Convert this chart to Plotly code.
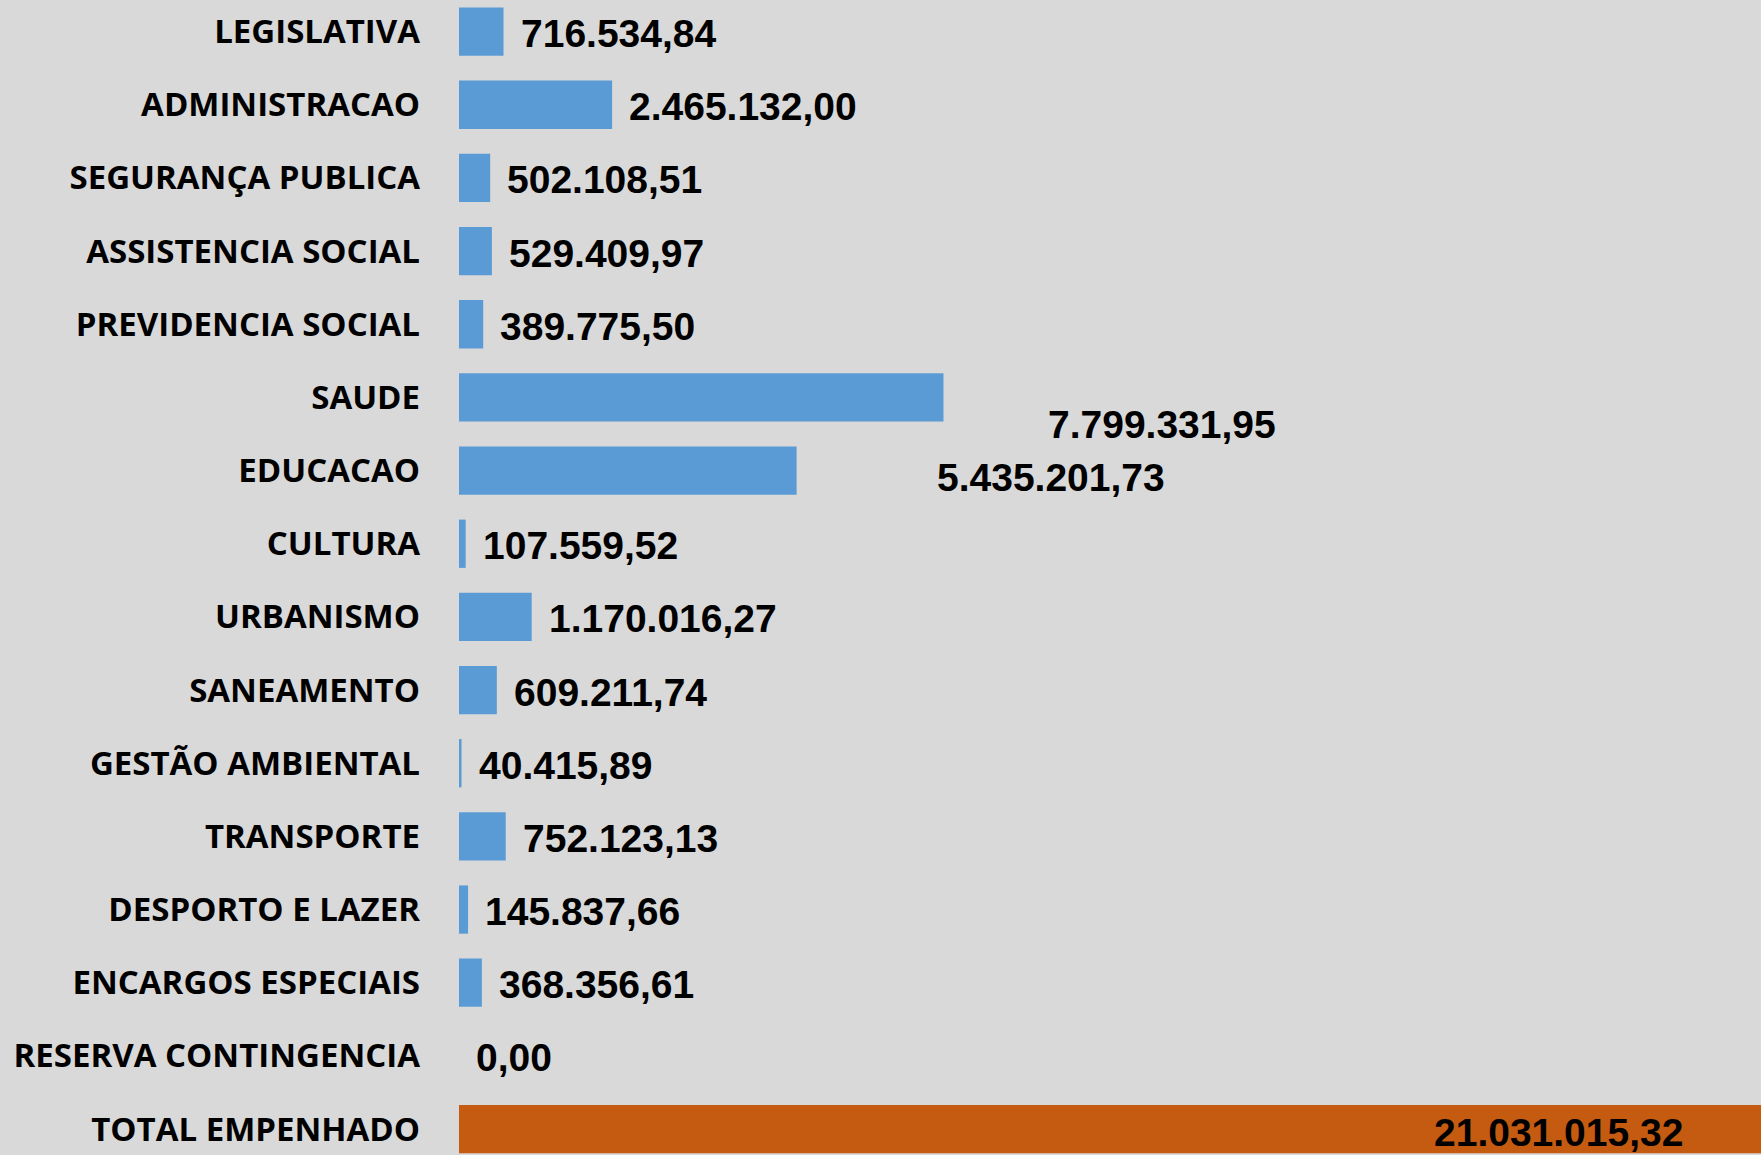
import plotly.graph_objects as go

categories = [
    "LEGISLATIVA", "ADMINISTRACAO", "SEGURANÇA PUBLICA", "ASSISTENCIA SOCIAL",
    "PREVIDENCIA SOCIAL", "SAUDE", "EDUCACAO", "CULTURA", "URBANISMO",
    "SANEAMENTO", "GESTÃO AMBIENTAL", "TRANSPORTE", "DESPORTO E LAZER",
    "ENCARGOS ESPECIAIS", "RESERVA CONTINGENCIA", "TOTAL EMPENHADO",
]
values = [
    716534.84, 2465132.00, 502108.51, 529409.97,
    389775.50, 7799331.95, 5435201.73, 107559.52, 1170016.27,
    609211.74, 40415.89, 752123.13, 145837.66,
    368356.61, 0.00, 21031015.32,
]

BLUE = "#5b9bd5"
ORANGE = "#c55a11"
BG = "#d9d9d9"
X_MAX = 20.96e6

colors = [ORANGE if c == "TOTAL EMPENHADO" else BLUE for c in categories]


def fmt_br(v):
    s = f"{v:,.2f}"
    return s.replace(",", "X").replace(".", ",").replace("X", ".")


fig = go.Figure(go.Bar(
    y=categories, x=values, orientation="h",
    marker=dict(color=colors, line=dict(width=0)),
    hoverinfo="skip",
))

# label offsets (pixels) for labels not placed right next to the bar
special = {
    "SAUDE": dict(xanchor="left", xshift=103, yshift=-27),
    "EDUCACAO": dict(xanchor="left", xshift=138, yshift=-7),
    "TOTAL EMPENHADO": dict(xanchor="right", xshift=-76, yshift=-3),
}

for c, v in zip(categories, values):
    opts = special.get(c, dict(xanchor="left", xshift=15, yshift=-2))
    fig.add_annotation(
        x=min(v, X_MAX), y=c, text=fmt_br(v), showarrow=False,
        xanchor=opts["xanchor"], yanchor="middle",
        xshift=opts["xshift"], yshift=opts["yshift"],
        font=dict(family="Liberation Sans, Arial", size=39, color="#000000",
                  weight="bold"),
    )

fig.update_layout(
    width=1761, height=1155,
    paper_bgcolor=BG, plot_bgcolor=BG,
    margin=dict(l=459, r=0, t=0, b=0),
    bargap=0.34,
    showlegend=False,
    xaxis=dict(range=[0, X_MAX], visible=False, showgrid=False, zeroline=False),
    yaxis=dict(
        type="category",
        categoryorder="array", categoryarray=categories,
        range=[15.355, -0.432],
        showgrid=False, zeroline=False, showline=False, ticks="",
        ticklabelstandoff=38,
        tickfont=dict(family="Open Sans", size=33, color="#000000", weight="bold"),
    ),
)

fig.write_html(
    "out.html",
    config={"displayModeBar": False},
    post_script="document.body.style.margin='0';document.body.style.background='#d9d9d9';",
)
